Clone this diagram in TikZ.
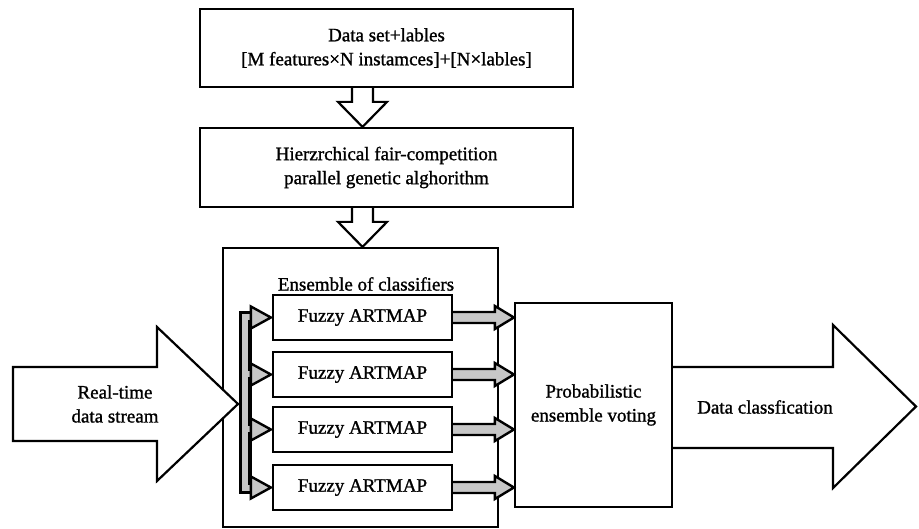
\documentclass[tikz,border=0pt]{standalone}
\usepackage{fontspec}
\setmainfont{Liberation Serif}[BoldFont={Liberation Serif}, BoldFeatures={FakeBold=1.2}]
\usetikzlibrary{calc}
\begin{document}
\begin{tikzpicture}[x=1pt,y=-1pt,
  box/.style={draw, line width=2.2pt, rectangle, inner sep=0pt, align=center, font=\fontsize{19}{24}\selectfont\bfseries},
  txt/.style={inner sep=0pt, align=center, font=\fontsize{19}{24}\selectfont\bfseries},
  hollow/.style={draw, line width=2.2pt, fill=white, line join=miter},
  grayarr/.style={draw, line width=2.4pt, fill=black!22, line join=miter},
  busblack/.style={draw=black, line width=13pt, line join=miter, line cap=butt},
  busgray/.style={draw=black!22, line width=6pt, line join=miter, line cap=butt}]
\useasboundingbox (0,0) rectangle (919,529);
% boxes
\node[box, minimum width=373pt, minimum height=78pt] (data) at (386.5,48) {Data set+lables\\{[}M features×N instamces]+[N×lables]};
\node[box, minimum width=373pt, minimum height=79pt] (ga) at (386.5,167.5) {Hierzrchical fair-competition\\parallel genetic alghorithm};
\node[box, minimum width=275pt, minimum height=279pt] (ens) at (360.5,387.5) {};
\node[txt] (enslabel) at (366,284) {Ensemble of classifiers};
\foreach \i/\y in {1/317.5,2/374.5,3/429.5,4/487.5}
  \node[box, minimum width=179pt, minimum height=45pt] (fa\i) at (362.5,\y) {Fuzzy ARTMAP};
\node[box, minimum width=157pt, minimum height=204pt] (vote) at (593.5,405) {Probabilistic\\ensemble voting};
% hollow down arrows
\coordinate (s1) at (data.south -| fa1.center);
\coordinate (t1) at (ga.north -| fa1.center);
\draw[hollow] ($(s1)+(-10.5,0)$) -- ($(t1)+(-10.5,-25)$) -- ($(t1)+(-24.5,-25)$) -- (t1) -- ($(t1)+(24.5,-25)$) -- ($(t1)+(10.5,-25)$) -- ($(s1)+(10.5,0)$);
\coordinate (s2) at (ga.south -| fa1.center);
\coordinate (t2) at (ens.north -| fa1.center);
\draw[hollow] ($(s2)+(-10.5,0)$) -- ($(t2)+(-10.5,-25)$) -- ($(t2)+(-24.5,-25)$) -- (t2) -- ($(t2)+(24.5,-25)$) -- ($(t2)+(10.5,-25)$) -- ($(s2)+(10.5,0)$);
% input arrow
\coordinate (bus) at (245,404);
\draw[hollow] (13,367) -- (157,367) -- (157,327) -- ($(bus)+(-7,0)$) -- (157,481) -- (157,441) -- (13,441) -- cycle;
\node[txt] (rt) at (115,404) {Real-time\\data stream};
% distribution bus
\draw[busblack] ($(fa1.west)+(-18,0)$) -- (bus |- fa1.west) -- (bus |- fa4.west) -- ($(fa4.west)+(-18,0)$);
\draw[busblack] (bus |- fa2.west) -- ($(fa2.west)+(-18,0)$);
\draw[busblack] (bus |- fa3.west) -- ($(fa3.west)+(-18,0)$);
\draw[busgray] ($(fa1.west)+(-18,0)$) -- (bus |- fa1.west) -- (bus |- fa4.west) -- ($(fa4.west)+(-18,0)$);
\draw[busgray] (bus |- fa2.west) -- ($(fa2.west)+(-18,0)$);
\draw[busgray] (bus |- fa3.west) -- ($(fa3.west)+(-18,0)$);
\foreach \i in {1,...,4}
  \draw[grayarr] ($(fa\i.west)+(-1,0)$) -- ($(fa\i.west)+(-21,-11)$) -- ($(fa\i.west)+(-21,11)$) -- cycle;
% FA -> vote arrows
\foreach \i in {1,...,4} {
  \coordinate (a\i) at (fa\i.east);
  \coordinate (b\i) at (vote.west |- fa\i.east);
  \draw[grayarr] (a\i) ++(0,-5.5) -- ($(b\i)+(-19,-5.5)$) -- ($(b\i)+(-19,-11.5)$) -- (b\i) -- ($(b\i)+(-19,11.5)$) -- ($(b\i)+(-19,5.5)$) -- ($(a\i)+(0,5.5)$);
}
% output arrow
\draw[hollow] (vote.east |- 0,367) -- (833,367) -- (833,325) -- (916,406.5) -- (833,488) -- (833,448) -- (vote.east |- 0,448);
\node[txt] (dc) at (765,407) {Data classfication};
\end{tikzpicture}
\end{document}
